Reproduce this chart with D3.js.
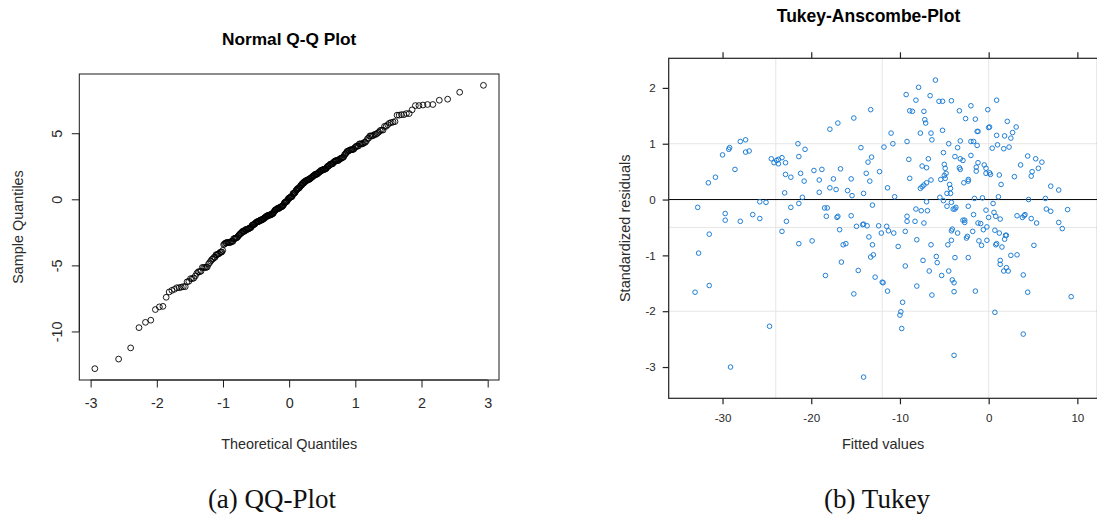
<!DOCTYPE html>
<html>
<head>
<meta charset="utf-8">
<script src="https://cdn.jsdelivr.net/npm/d3@7"></script>
<style>
  body { margin: 0; background: #fff; }
  svg { display: block; }
  text { font-family: "Liberation Sans", Arial, sans-serif; }
  .caption { font-family: "Liberation Serif", "DejaVu Serif", serif; }
</style>
</head>
<body>
<div id="chart"></div>
<script>
// Fitted values and standardized residuals
const fittedValues = [
  -33.1, -32.8, -32.7, -31.6, -31.5, -31.5, -30.8, -30.0, -29.7, -29.7,
  -29.3, -29.2, -29.1, -28.6, -28.0, -28.0, -27.4, -27.4, -27.0, -26.6,
  -25.8, -25.8, -25.1, -24.7, -24.5, -24.2, -23.9, -23.7, -23.7, -23.3,
  -23.3, -23.0, -22.9, -22.9, -22.8, -22.3, -22.3, -21.5, -21.4, -21.4,
  -21.4, -21.2, -21.0, -20.8, -20.7, -19.9, -19.7, -19.1, -19.1, -18.8,
  -18.5, -18.4, -18.3, -18.2, -17.9, -17.9, -17.5, -17.2, -17.1, -17.0,
  -17.0, -16.8, -16.7, -16.6, -16.4, -16.1, -15.9, -15.5, -15.5, -15.4,
  -15.2, -15.2, -14.9, -14.7, -14.4, -14.2, -14.1, -14.1, -14.1, -13.8,
  -13.7, -13.6, -13.5, -13.4, -13.3, -13.3, -13.2, -13.1, -13.1, -13.0,
  -12.8, -12.4, -12.3, -12.1, -11.8, -11.5, -11.4, -11.4, -11.3, -11.0,
  -10.8, -10.7, -10.6, -10.2, -12.0, -11.9, -9.7, -9.9, -10.0, -9.8,
  -9.4, -9.4, -9.3, -9.2, -9.2, -9.2, -9.0, -8.9, -8.9, -8.6,
  -8.3, -8.2, -8.2, -8.1, -8.1, -7.9, -7.7, -7.7, -7.6, -7.5,
  -7.5, -7.4, -7.3, -7.3, -7.3, -7.2, -7.1, -7.0, -7.0, -6.9,
  -6.8, -6.7, -6.6, -6.5, -6.5, -6.5, -6.4, -6.4, -7.0, -6.0,
  -5.9, -5.8, -5.6, -5.5, -5.4, -5.3, -5.2, -5.2, -5.1, -5.1,
  -5.0, -5.0, -4.9, -4.9, -4.8, -4.7, -4.7, -4.6, -4.5, -4.5,
  -4.4, -4.3, -4.3, -4.2, -4.2, -4.2, -4.2, -4.1, -4.1, -4.0,
  -3.9, -3.9, -3.9, -3.8, -3.8, -3.8, -3.7, -3.5, -3.5, -3.3,
  -3.3, -3.2, -3.2, -3.2, -2.9, -2.9, -2.8, -2.7, -2.7, -2.6,
  -2.5, -2.4, -2.3, -2.3, -2.3, -2.3, -2.0, -2.0, -2.0, -1.8,
  -1.7, -1.7, -1.6, -1.5, -1.5, -1.4, -1.4, -1.3, -1.3, -1.2,
  -1.2, -1.2, -1.1, -0.9, -0.8, -0.7, -0.6, -0.5, -0.3, -0.3,
  -0.3, -0.2, -0.2, -0.1, 0.0, 0.0, 0.1, 0.1, 0.2, 0.4,
  0.5, 0.6, 0.7, 0.7, 0.8, 0.8, 0.9, 0.9, 0.9, 1.0,
  1.1, 1.2, 1.2, 1.3, 1.3, 1.3, 1.4, 1.5, 1.7, 1.7,
  1.8, 1.8, 1.9, 2.0, 2.0, 2.1, 2.2, 2.3, 2.5, 2.5,
  2.7, 2.9, 3.1, 3.2, 3.2, 3.6, 3.8, 3.9, 3.9, 4.0,
  4.1, 4.4, 4.4, 4.5, 4.8, 4.8, 4.9, 5.1, 5.3, 5.4,
  5.6, 6.0, 6.4, 6.5, 7.0, 7.0, 7.9, 7.9, 8.3, 8.9,
  9.3
];
const stdResiduals = [
  -1.66, -0.14, -0.96, 0.30, -0.62, -1.54, 0.40, 0.80, -0.25, -0.37,
  0.90, 0.93, -3.00, 0.54, 1.04, -0.39, 1.07, 0.85, 0.87, -0.27,
  -0.04, -0.34, -0.05, -2.27, 0.73, 0.66, 0.70, 0.64, 0.72, -0.57,
  0.75, 0.12, 0.66, 0.45, -0.39, 0.40, -0.14, 1.00, 0.77, -0.07,
  -0.79, 0.47, 0.04, 0.33, 0.90, -0.74, 0.52, 0.35, 0.13, 0.54,
  -0.15, -1.36, -0.30, -0.15, 0.21, 1.26, 0.37, 0.18, -0.32, 1.37,
  -0.30, -0.54, 0.55, -1.12, -0.81, -0.79, 0.16, 0.37, -0.29, 0.07,
  1.46, -1.69, -0.48, -1.27, 0.93, -0.45, 0.11, -3.18, -0.44, 0.47,
  -0.47, 0.67, -0.67, 0.33, 1.61, -1.03, 0.76, -0.81, -0.10, -0.99,
  -1.39, -0.47, 0.50, -0.60, 0.94, -0.48, -1.64, 0.21, -0.56, 1.19,
  1.00, -0.60, 0.05, -0.84, -1.48, -1.49, -1.84, -2.01, -2.07, -2.31,
  -1.19, -0.57, 1.88, -0.39, -0.30, 1.04, 0.72, 0.38, 1.59, 1.58,
  -0.39, -0.17, 1.78, -1.55, -0.72, 2.01, 0.20, 1.19, -0.20, 0.23,
  0.60, -1.09, 1.58, -0.42, 0.26, 1.43, 1.37, -0.04, 0.30, -0.20,
  0.73, -1.28, 1.86, 0.35, 1.19, -0.81, -1.71, 1.07, 0.57, 2.14,
  -1.02, -1.13, 1.76, 0.04, 0.36, -1.36, 1.76, 1.24, 0.84, -0.02,
  0.63, 0.43, 0.38, 0.56, 0.47, -0.12, 0.11, -0.81, -1.28, 1.00,
  0.27, 0.11, 0.20, 1.77, -0.05, -0.56, -0.73, -0.53, -1.44, -0.17,
  -1.49, -1.65, -2.79, -1.04, 0.77, -0.17, -0.14, -0.60, 0.93, 1.59,
  0.57, 0.54, 1.05, 0.73, -0.37, 0.70, 0.30, -0.41, -0.37, 1.45,
  -0.69, -0.66, 0.33, 0.36, -0.12, -1.04, 0.79, 1.68, 1.04, -0.57,
  1.04, -0.27, 0.02, 1.44, -1.64, 0.58, 0.51, 0.97, 1.22, 1.22,
  -0.42, 0.66, -0.74, -0.43, -0.82, 0.03, -0.54, 0.62, -0.19, 0.47,
  0.56, -0.49, -0.73, 1.61, -0.32, 1.29, 1.30, 0.48, 0.45, 0.92,
  -0.07, -0.23, -2.02, -0.55, -0.30, -0.81, -0.79, 1.78, 1.15, 0.98,
  0.05, 0.44, -0.60, -1.09, -1.16, -0.35, 0.27, -0.85, -1.28, 0.91,
  1.14, -0.71, -0.64, -1.22, -0.64, 1.40, -1.28, 0.94, -1.00, 1.10,
  1.20, 0.41, 1.30, -0.29, -0.99, 0.62, -0.32, -1.35, -2.41, -0.29,
  -0.27, 0.78, -1.66, 0.00, -0.34, 0.42, 0.50, -0.82, 0.73, -0.42,
  0.56, 0.67, 0.02, -0.17, 0.24, -0.21, 0.17, -0.41, -0.52, -0.18,
  -1.74
];
// residual standard error used to turn standardized residuals back to raw residuals
const residualSigma = 4.03;

const qqXTicks = [-3, -2, -1, 0, 1, 2, 3];
const qqYTicks = [-10, -5, 0, 5];
const taXTicks = [-30, -20, -10, 0, 10];
const taYTicks = [-3, -2, -1, 0, 1, 2];
const taGridX = [-24, -12, 0];
const taGridY = [-2, -0.5, 1];

// plain hyphen minus, like R prints it
const fmt = d => String(d);

// inverse normal CDF (Acklam), for the theoretical quantiles of qqnorm
function qnorm(p) {
    const a = [-39.69683028665376, 220.9460984245205, -275.9285104469687, 138.3577518672690, -30.66479806614716, 2.506628277459239];
    const b = [-54.47609879822406, 161.5858368580409, -155.6989798598866, 66.80131188771972, -13.28068155288572];
    const c = [-0.007784894002430293, -0.3223964580411365, -2.400758277161838, -2.549732539343734, 4.374664141464968, 2.938163982698783];
    const d = [0.007784695709041462, 0.3224671290700398, 2.445134137142996, 3.754408661907416];
    const pl = 0.02425;
    if (p < pl || p > 1 - pl) {
        const q = Math.sqrt(-2 * Math.log(p < pl ? p : 1 - p));
        const v = (((((c[0]*q+c[1])*q+c[2])*q+c[3])*q+c[4])*q+c[5]) / ((((d[0]*q+d[1])*q+d[2])*q+d[3])*q+1);
        return p < pl ? v : -v;
    }
    const q = p - 0.5, r = q * q;
    return (((((a[0]*r+a[1])*r+a[2])*r+a[3])*r+a[4])*r+a[5])*q / (((((b[0]*r+b[1])*r+b[2])*r+b[3])*r+b[4])*r+1);
}

const W = 1097, H = 521;
const svg = d3.select("#chart").append("svg")
    .attr("width", W).attr("height", H);

// ---------- (a) Normal Q-Q plot ----------
function drawQQ() {
    const sample = stdResiduals.map(r => r * residualSigma).sort(d3.ascending);
    const n = sample.length;
    const pts = sample.map((s, i) => ({ x: qnorm((i + 0.5) / n), y: s }));

    const box = { left: 79.3, right: 499, top: 74, bottom: 380 };
    const pad = (ext) => { const s = (ext[1] - ext[0]) * 0.04; return [ext[0] - s, ext[1] + s]; };
    const x = d3.scaleLinear().domain(pad(d3.extent(pts, d => d.x))).range([box.left, box.right]);
    const y = d3.scaleLinear().domain(pad(d3.extent(pts, d => d.y))).range([box.bottom, box.top]);

    const g = svg.append("g");
    const ink = "#1a1a1a";

    g.append("rect")
        .attr("x", box.left).attr("y", box.top)
        .attr("width", box.right - box.left).attr("height", box.bottom - box.top)
        .attr("fill", "none").attr("stroke", ink).attr("stroke-width", 1);

    const xAxis = g.append("g")
        .attr("transform", `translate(0,${box.bottom})`)
        .call(d3.axisBottom(x).tickValues(qqXTicks).tickSize(7.5).tickPadding(12).tickFormat(fmt));
    xAxis.select(".domain").attr("stroke", ink)
        .attr("d", `M${x(-3)},0H${x(3)}`);
    xAxis.selectAll(".tick line").attr("stroke", ink);
    xAxis.selectAll(".tick text")
        .attr("fill", "#2a2a2a").style("font-size", "14.4px")
        .attr("y", 28).attr("dy", "0");

    const yAxis = g.append("g")
        .attr("transform", `translate(${box.left},0)`)
        .call(d3.axisLeft(y).tickValues(qqYTicks).tickSize(7.5).tickFormat(fmt));
    yAxis.select(".domain").attr("stroke", ink)
        .attr("d", `M0,${y(-10)}V${y(5)}`);
    yAxis.selectAll(".tick line").attr("stroke", ink);
    yAxis.selectAll(".tick text")
        .attr("fill", "#2a2a2a").style("font-size", "14.4px")
        .attr("x", null).attr("dy", null)
        .attr("text-anchor", "middle")
        .attr("transform", "translate(-22.6,0) rotate(-90)")
        .attr("y", 0).attr("dy", "0.36em");

    g.append("g").selectAll("circle")
        .data(pts)
        .enter().append("circle")
        .attr("cx", d => x(d.x))
        .attr("cy", d => y(d.y))
        .attr("r", 2.9)
        .attr("fill", "none")
        .attr("stroke", "#000")
        .attr("stroke-width", 0.9);

    g.append("text")
        .attr("x", (box.left + box.right) / 2).attr("y", 45)
        .attr("text-anchor", "middle")
        .style("font-size", "17.3px").style("font-weight", "bold")
        .attr("fill", "#000")
        .text("Normal Q-Q Plot");

    g.append("text")
        .attr("x", (box.left + box.right) / 2).attr("y", 449)
        .attr("text-anchor", "middle")
        .style("font-size", "14.4px").attr("fill", "#2a2a2a")
        .text("Theoretical Quantiles");

    g.append("text")
        .attr("transform", `translate(22.5,${(box.top + box.bottom) / 2}) rotate(-90)`)
        .attr("text-anchor", "middle")
        .style("font-size", "14.4px").attr("fill", "#2a2a2a")
        .text("Sample Quantiles");
}

// ---------- (b) Tukey-Anscombe plot ----------
function drawTA() {
    const pts = fittedValues.map((f, i) => ({ x: f, y: stdResiduals[i] }));
    const box = { left: 668.7, right: 1097.5, top: 58.3, bottom: 398.3 };
    const x = d3.scaleLinear().domain([-36.07, 12.27]).range([box.left, box.right]);
    const y = d3.scaleLinear().domain([-3.56, 2.53]).range([box.bottom, box.top]);

    const g = svg.append("g");
    const ink = "#222";
    const grid = "#e6e6e6";

    g.append("g").selectAll("line")
        .data(taGridX)
        .enter().append("line")
        .attr("x1", d => x(d)).attr("x2", d => x(d))
        .attr("y1", box.top).attr("y2", box.bottom)
        .attr("stroke", grid).attr("stroke-width", 1);
    g.append("g").selectAll("line")
        .data(taGridY)
        .enter().append("line")
        .attr("x1", box.left).attr("x2", box.right)
        .attr("y1", d => y(d)).attr("y2", d => y(d))
        .attr("stroke", grid).attr("stroke-width", 1);

    // zero line
    g.append("line")
        .attr("x1", box.left).attr("x2", box.right)
        .attr("y1", y(0)).attr("y2", y(0))
        .attr("stroke", "#000").attr("stroke-width", 1);

    g.append("g").selectAll("circle")
        .data(pts)
        .enter().append("circle")
        .attr("cx", d => x(d.x))
        .attr("cy", d => y(d.y))
        .attr("r", 2.3)
        .attr("fill", "none")
        .attr("stroke", "#1f7fd6")
        .attr("stroke-width", 1);

    g.append("rect")
        .attr("x", box.left).attr("y", box.top)
        .attr("width", box.right - box.left).attr("height", box.bottom - box.top)
        .attr("fill", "none").attr("stroke", ink).attr("stroke-width", 1.2);

    const styleAxis = (sel) => {
        sel.select(".domain").remove();
        sel.selectAll(".tick line").attr("stroke", ink).attr("stroke-width", 1.2);
        sel.selectAll(".tick text").attr("fill", "#2a2a2a").style("font-size", "11.6px");
    };

    g.append("g")
        .attr("transform", `translate(0,${box.bottom})`)
        .call(d3.axisBottom(x).tickValues(taXTicks).tickSize(6).tickPadding(9).tickFormat(fmt))
        .call(styleAxis);
    g.append("g")
        .attr("transform", `translate(0,${box.top})`)
        .call(d3.axisTop(x).tickValues(taXTicks).tickSize(6).tickFormat(""))
        .call(styleAxis);
    g.append("g")
        .attr("transform", `translate(${box.left},0)`)
        .call(d3.axisLeft(y).tickValues(taYTicks).tickSize(6).tickPadding(7).tickFormat(fmt))
        .call(styleAxis);

    g.append("text")
        .attr("x", 868.5).attr("y", 22)
        .attr("text-anchor", "middle")
        .style("font-size", "17.5px").style("font-weight", "bold")
        .attr("fill", "#000")
        .text("Tukey-Anscombe-Plot");

    g.append("text")
        .attr("x", (box.left + box.right) / 2).attr("y", 449)
        .attr("text-anchor", "middle")
        .style("font-size", "14.5px").attr("fill", "#2a2a2a")
        .text("Fitted values");

    g.append("text")
        .attr("transform", `translate(629.5,${(box.top + box.bottom) / 2}) rotate(-90)`)
        .attr("text-anchor", "middle")
        .style("font-size", "14.5px").attr("fill", "#2a2a2a")
        .text("Standardized residuals");
}

drawQQ();
drawTA();

// sub-figure captions
svg.append("text").attr("class", "caption")
    .attr("x", 272).attr("y", 508)
    .attr("text-anchor", "middle")
    .style("font-size", "27px").attr("fill", "#111")
    .text("(a) QQ-Plot");
svg.append("text").attr("class", "caption")
    .attr("x", 877).attr("y", 508)
    .attr("text-anchor", "middle")
    .style("font-size", "27px").attr("fill", "#111")
    .text("(b) Tukey");
</script>
</body>
</html>
